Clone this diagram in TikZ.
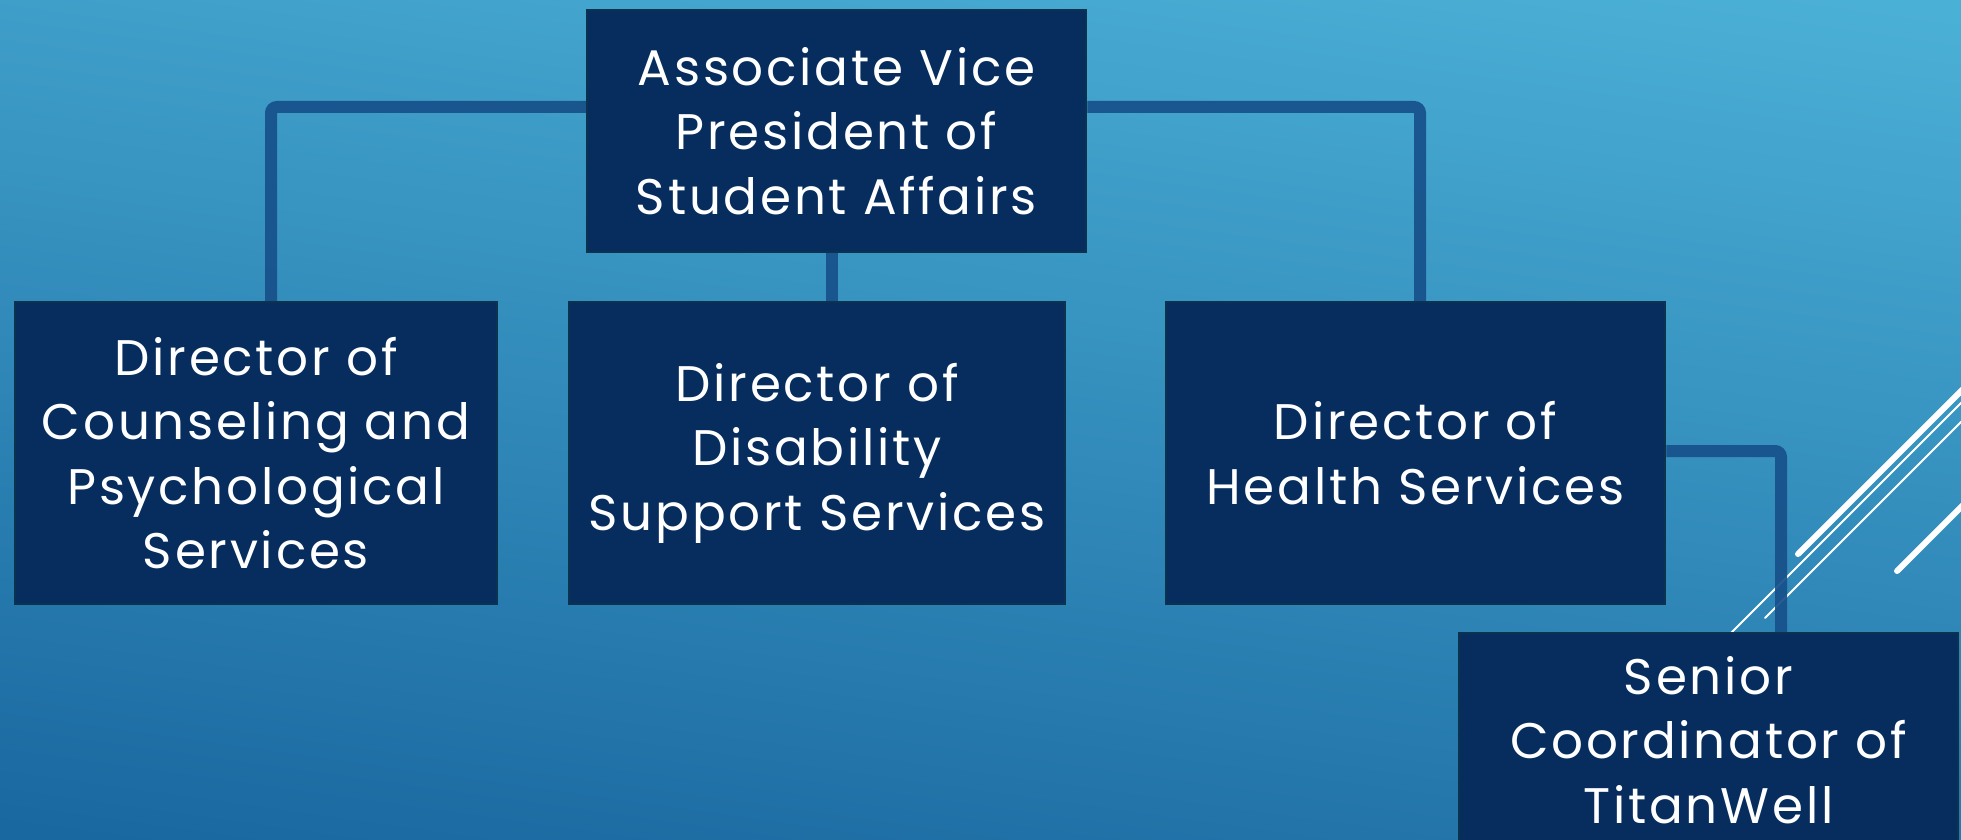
\documentclass[tikz,border=0pt]{standalone}
\usepackage{fontspec}
\setmainfont{Poppins}[LetterSpace=5.5]
\usetikzlibrary{calc}
\definecolor{bgtop}{HTML}{4BB0D6}
\definecolor{bgbot}{HTML}{1A68A0}
\definecolor{boxfill}{HTML}{062D5E}
\definecolor{boxedge}{HTML}{0B3350}
\definecolor{linkcol}{HTML}{17508A}
\tikzset{
  orgbox/.style={draw=boxedge, line width=2.5pt, fill=boxfill, text=white,
    align=center, inner sep=0pt, font=\fontsize{50}{64.5}\selectfont},
  link/.style={draw=linkcol, line width=12pt, rounded corners=6pt, opacity=0.92},
  deco/.style={draw=white, line cap=round},
}
\begin{document}
\begin{tikzpicture}[x=1pt,y=-1pt]
\useasboundingbox (0,0) rectangle (1961,840);
\begin{scope}
\clip (0,0) rectangle (1961,840);
\shade[top color=bgtop, bottom color=bgbot, shading angle=-8] (-50,-50) rectangle (2011,890);
% decorative lines
\draw[deco, line width=6pt] (1798,554) -- (2000,352);
\draw[deco, line width=2pt] (1720,644) -- (2000,364);
\draw[deco, line width=2pt] (1765,618) -- (2000,383);
\draw[deco, line width=6pt] (1897,571) -- (2000,468);
% boxes
\node[orgbox, minimum width=499pt, minimum height=242pt] (avp) at (836.5,131)
  {Associate Vice\\President of\\Student Affairs};
\node[orgbox, minimum width=482pt, minimum height=302pt] (cps) at (256,453)
  {Director of\\Counseling and\\Psychological\\Services};
\node[orgbox, minimum width=496pt, minimum height=302pt] (dss) at (817,453)
  {Director of\\Disability\\Support Services};
\node[orgbox, minimum width=499pt, minimum height=302pt] (hs) at (1415.5,453)
  {Director of\\Health Services};
\node[orgbox, minimum width=499pt, minimum height=214pt] (sc) at (1708.5,740)
  {Senior\\Coordinator of\\TitanWell};
% connectors
\coordinate (cL) at (271,107);
\coordinate (cR) at (1420,107);
\coordinate (cM) at (832,0);
\coordinate (cH) at (1781,451);
\draw[link] (avp.west |- cL) -- (cL) -- (cL |- cps.north);
\draw[link] (avp.east |- cR) -- (cR) -- (cR |- hs.north);
\draw[link] (cM |- avp.south) -- (cM |- dss.north);
\draw[link] (hs.east |- cH) -- (cH) -- (cH |- sc.north);
\end{scope}
\end{tikzpicture}
\end{document}
